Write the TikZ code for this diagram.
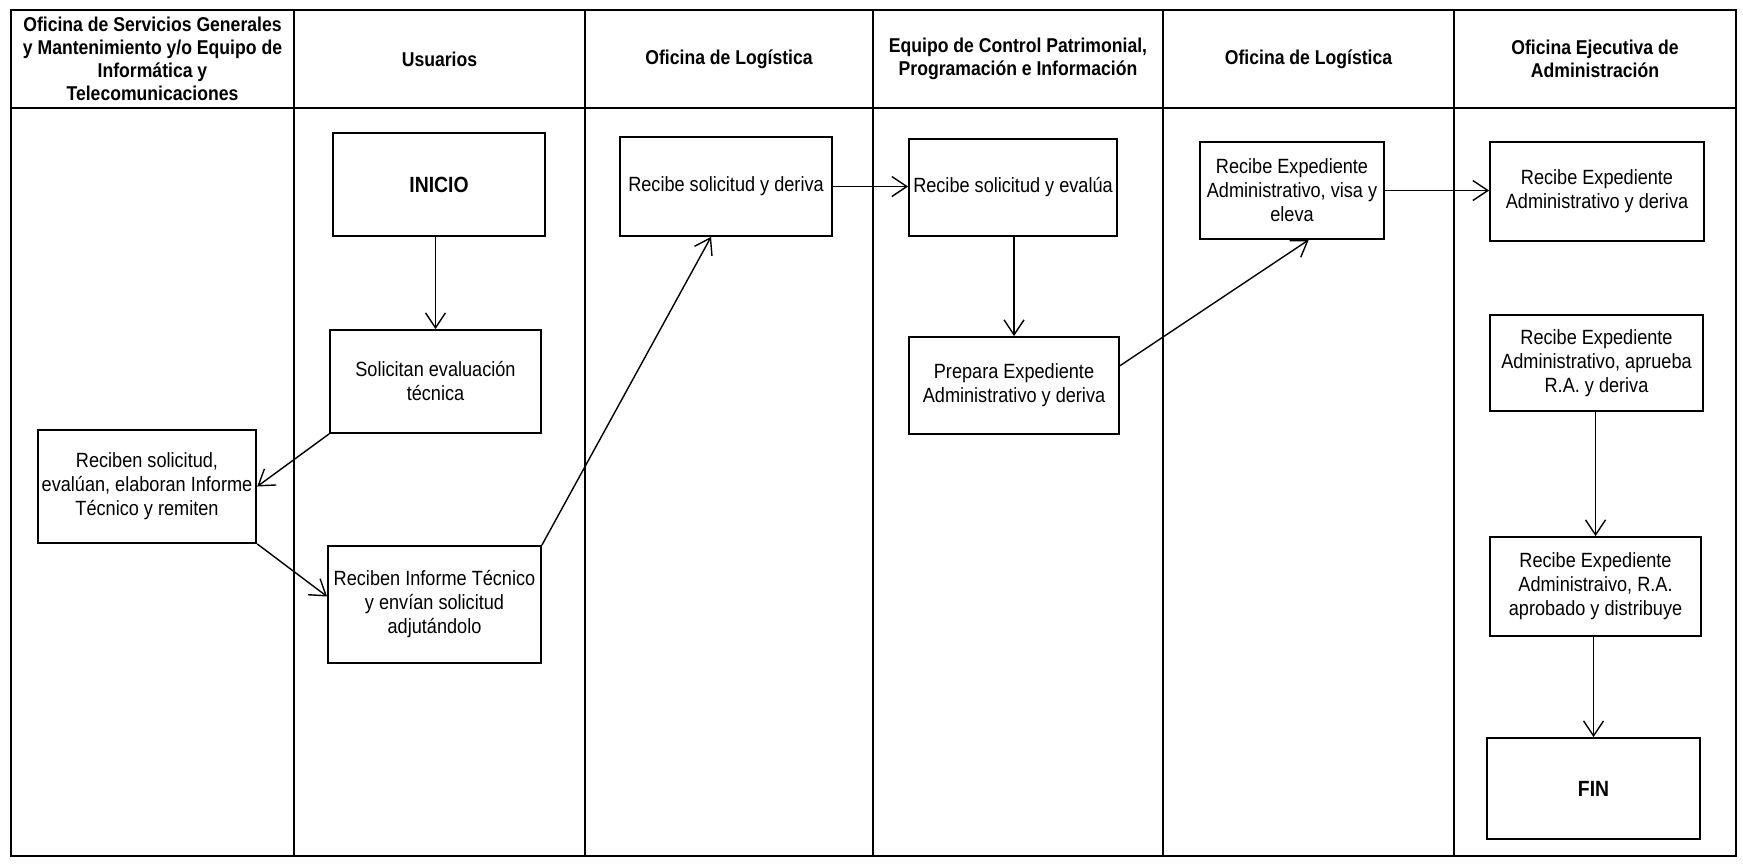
\documentclass[tikz,border=0pt]{standalone}
\usepackage{fontspec}
\setmainfont{Liberation Sans}[FakeStretch=0.88]
\usetikzlibrary{arrows.meta,calc}
\begin{document}
\begin{tikzpicture}[x=0.5pt,y=-0.5pt,
  box/.style={draw, line width=0.9pt, align=center, inner sep=2pt, font=\fontsize{10.3}{12}\selectfont},
  bigbox/.style={box, font=\fontsize{11}{13}\selectfont\bfseries},
  head/.style={align=center, font=\fontsize{10}{11.5}\selectfont\bfseries},
  arr/.style={line width=0.7pt, -{Straight Barb[length=7.5pt,width=10pt,line width=0.7pt]}},
  lane/.style={line width=0.7pt},
  frame/.style={line width=1.4pt}]
\useasboundingbox (0,0) rectangle (1743,863);
% frame and lanes
\draw[frame] (11,10) rectangle (1736,856);
\draw[lane] (11,108) -- (1736,108);
\foreach \x in {294,585,873,1163,1454} \draw[lane] (\x,10) -- (\x,856);
% headers
\node[head] (h1) at (152.5,59) {Oficina de Servicios Generales\\y Mantenimiento y/o Equipo de\\Informática y\\Telecomunicaciones};
\node[head] (h2) at (439.5,59) {Usuarios};
\node[head] (h3) at (729,59) {Oficina de Logística};
\node[head] (h4) at (1018,59) {Equipo de Control Patrimonial,\\Programación e Información};
\node[head] (h5) at (1308.5,59) {Oficina de Logística};
\node[head] (h6) at (1595,59) {Oficina Ejecutiva de\\Administración};
% boxes
\node[bigbox, minimum width=106pt, minimum height=51.5pt] (inicio) at (439,184.5) {INICIO};
\node[box, minimum width=105.5pt, minimum height=51.5pt] (solic) at (435.5,381.5) {Solicitan evaluación\\técnica};
\node[box, minimum width=106pt, minimum height=56.5pt] (recib) at (147,486.5) {Reciben solicitud,\\evalúan, elaboran Informe\\Técnico y remiten};
\node[box, minimum width=106.5pt, minimum height=58.5pt] (recinf) at (434.5,604.5) {Reciben Informe Técnico\\y envían solicitud\\adjutándolo};
\node[box, minimum width=106pt, minimum height=49.5pt] (log1) at (726,186.5) {Recibe solicitud y deriva};
\node[box, minimum width=104pt, minimum height=48.5pt] (eval) at (1013,187.5) {Recibe solicitud y evalúa};
\node[box, minimum width=105pt, minimum height=48.5pt] (prep) at (1014,385.5) {Prepara Expediente\\Administrativo y deriva};
\node[box, minimum width=92pt, minimum height=48.5pt] (visa) at (1292,190.5) {Recibe Expediente\\Administrativo, visa y\\eleva};
\node[box, minimum width=107pt, minimum height=49.5pt] (oea) at (1597,191.5) {Recibe Expediente\\Administrativo y deriva};
\node[box, minimum width=106.5pt, minimum height=48pt] (aprueba) at (1596.5,363) {Recibe Expediente\\Administrativo, aprueba\\R.A. y deriva};
\node[box, minimum width=105.5pt, minimum height=49.5pt] (distrib) at (1595.5,586.5) {Recibe Expediente\\Administraivo, R.A.\\aprobado y distribuye};
\node[bigbox, minimum width=106.5pt, minimum height=50.5pt] (fin) at (1593.5,788.5) {FIN};
% connectors
\draw[arr] (inicio.south -| solic.north) -- (solic.north);
\draw[arr] (solic.south west) -- (recib.east);
\draw[arr] (recib.south east) -- ($(recinf.west)+(0,-8)$);
\draw[arr] (recinf.north east) -- ($(log1.south west)!0.43!(log1.south east)$);
\draw[arr] (log1.east) -- (log1.east -| eval.west);
\draw[arr] (eval.south -| prep.north) -- (prep.north);
\draw[arr] ($(prep.north east)!0.3!(prep.south east)$) -- ($(visa.south west)!0.59!(visa.south east)$);
\draw[arr] (visa.east) -- (visa.east -| oea.west);
\draw[arr] (aprueba.south -| distrib.north) -- (distrib.north);
\draw[arr] (distrib.south -| fin.north) -- (fin.north);
\end{tikzpicture}
\end{document}
